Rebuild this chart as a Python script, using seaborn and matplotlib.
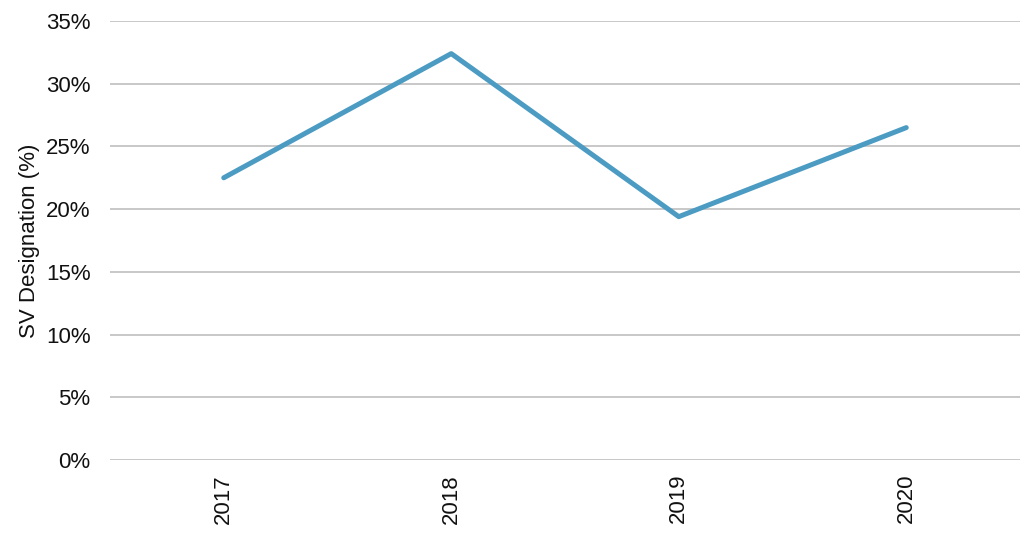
import seaborn as sns
import pandas as pd
from matplotlib import pyplot as plt
from matplotlib.ticker import PercentFormatter

years = ['2017', '2018', '2019', '2020']
sv_designation = [22.5, 32.4, 19.4, 26.5]

df = pd.DataFrame({'Year': years, 'SV': sv_designation})

sns.set_style('white')
plt.rcParams['font.family'] = ['Liberation Sans', 'DejaVu Sans']

fig = plt.figure(figsize=(10.24, 5.42), dpi=100)
ax = fig.add_axes([110 / 1024, 82 / 542, 910 / 1024, 439 / 542])

sns.lineplot(data=df, x='Year', y='SV', ax=ax, color='#4b9bc3', linewidth=3.6,
             solid_capstyle='round', sort=False)

ax.set_xlim(-0.5, 3.5)
ax.set_ylim(0, 35)
ax.set_yticks(range(0, 36, 5))
ax.yaxis.set_major_formatter(PercentFormatter(decimals=0))
ax.grid(axis='y', color='#bfbfbf', linewidth=1.2)
ax.set_axisbelow(True)
for s in ax.spines.values():
    s.set_visible(False)
ax.tick_params(axis='both', length=0, labelsize=16, labelcolor='#111111')
ax.tick_params(axis='y', pad=14)
ax.tick_params(axis='x', pad=10)
plt.setp(ax.get_xticklabels(), rotation=90)
ax.set_xlabel('')
ax.set_ylabel('SV Designation (%)', fontsize=16, color='#111111', labelpad=4)

plt.savefig('out.png', dpi=100)
